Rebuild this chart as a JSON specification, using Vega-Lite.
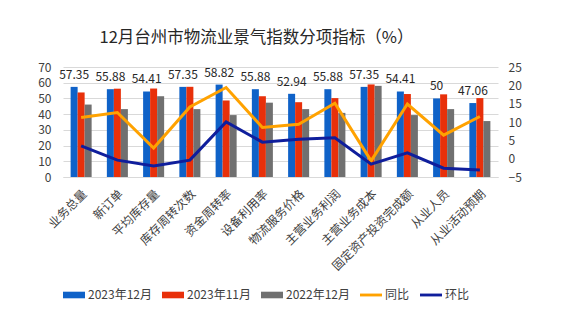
{
  "$schema": "https://vega.github.io/schema/vega-lite/v6.json",
  "width": 435,
  "height": 110,
  "autosize": {"type": "none"},
  "padding": {"left": 63, "top": 67, "right": 64, "bottom": 153},
  "background": "white",
  "title": {
    "text": "12月台州市物流业景气指数分项指标（%）",
    "fontSize": 16.5,
    "fontWeight": "normal",
    "color": "#262626",
    "anchor": "middle",
    "dx": -24,
    "offset": 15
  },
  "config": {
    "font": "Noto Sans CJK SC",
    "view": {"stroke": null},
    "axis": {"labelFontSize": 12, "labelColor": "#404040", "ticks": false, "title": null}
  },
  "datasets": {
    "bars": [
      {"cat": "业务总量", "series": "2023年12月", "value": 57.35},
      {"cat": "新订单", "series": "2023年12月", "value": 55.88},
      {"cat": "平均库存量", "series": "2023年12月", "value": 54.41},
      {"cat": "库存周转次数", "series": "2023年12月", "value": 57.35},
      {"cat": "资金周转率", "series": "2023年12月", "value": 58.82},
      {"cat": "设备利用率", "series": "2023年12月", "value": 55.88},
      {"cat": "物流服务价格", "series": "2023年12月", "value": 52.94},
      {"cat": "主营业务利润", "series": "2023年12月", "value": 55.88},
      {"cat": "主营业务成本", "series": "2023年12月", "value": 57.35},
      {"cat": "固定资产投资完成额", "series": "2023年12月", "value": 54.41},
      {"cat": "从业人员", "series": "2023年12月", "value": 50},
      {"cat": "从业活动预期", "series": "2023年12月", "value": 47.06},
      {"cat": "业务总量", "series": "2023年11月", "value": 53.8},
      {"cat": "新订单", "series": "2023年11月", "value": 56.2},
      {"cat": "平均库存量", "series": "2023年11月", "value": 56.3},
      {"cat": "库存周转次数", "series": "2023年11月", "value": 57.4},
      {"cat": "资金周转率", "series": "2023年11月", "value": 48.7},
      {"cat": "设备利用率", "series": "2023年11月", "value": 51.4},
      {"cat": "物流服务价格", "series": "2023年11月", "value": 47.6},
      {"cat": "主营业务利润", "series": "2023年11月", "value": 50.2},
      {"cat": "主营业务成本", "series": "2023年11月", "value": 58.9},
      {"cat": "固定资产投资完成额", "series": "2023年11月", "value": 52.8},
      {"cat": "从业人员", "series": "2023年11月", "value": 52.6},
      {"cat": "从业活动预期", "series": "2023年11月", "value": 50.2},
      {"cat": "业务总量", "series": "2022年12月", "value": 46.1},
      {"cat": "新订单", "series": "2022年12月", "value": 43.2},
      {"cat": "平均库存量", "series": "2022年12月", "value": 51.4},
      {"cat": "库存周转次数", "series": "2022年12月", "value": 43.2},
      {"cat": "资金周转率", "series": "2022年12月", "value": 39.4},
      {"cat": "设备利用率", "series": "2022年12月", "value": 47.3},
      {"cat": "物流服务价格", "series": "2022年12月", "value": 43.2},
      {"cat": "主营业务利润", "series": "2022年12月", "value": 40.8},
      {"cat": "主营业务成本", "series": "2022年12月", "value": 58.0},
      {"cat": "固定资产投资完成额", "series": "2022年12月", "value": 39.4},
      {"cat": "从业人员", "series": "2022年12月", "value": 43.2},
      {"cat": "从业活动预期", "series": "2022年12月", "value": 35.6}
    ],
    "lines": [
      {"cat": "业务总量", "series": "同比", "value": 11.2},
      {"cat": "新订单", "series": "同比", "value": 12.6},
      {"cat": "平均库存量", "series": "同比", "value": 2.9},
      {"cat": "库存周转次数", "series": "同比", "value": 14.1},
      {"cat": "资金周转率", "series": "同比", "value": 19.4},
      {"cat": "设备利用率", "series": "同比", "value": 8.5},
      {"cat": "物流服务价格", "series": "同比", "value": 9.4},
      {"cat": "主营业务利润", "series": "同比", "value": 15.1},
      {"cat": "主营业务成本", "series": "同比", "value": -0.6},
      {"cat": "固定资产投资完成额", "series": "同比", "value": 14.9},
      {"cat": "从业人员", "series": "同比", "value": 6.4},
      {"cat": "从业活动预期", "series": "同比", "value": 11.5},
      {"cat": "业务总量", "series": "环比", "value": 3.5},
      {"cat": "新订单", "series": "环比", "value": -0.4},
      {"cat": "平均库存量", "series": "环比", "value": -2.0},
      {"cat": "库存周转次数", "series": "环比", "value": -0.4},
      {"cat": "资金周转率", "series": "环比", "value": 10.0},
      {"cat": "设备利用率", "series": "环比", "value": 4.5},
      {"cat": "物流服务价格", "series": "环比", "value": 5.3},
      {"cat": "主营业务利润", "series": "环比", "value": 5.7},
      {"cat": "主营业务成本", "series": "环比", "value": -1.5},
      {"cat": "固定资产投资完成额", "series": "环比", "value": 1.6},
      {"cat": "从业人员", "series": "环比", "value": -2.6},
      {"cat": "从业活动预期", "series": "环比", "value": -3.1}
    ]
  },
  "encoding": {
    "x": {
      "field": "cat",
      "type": "nominal",
      "sort": ["业务总量","新订单","平均库存量","库存周转次数","资金周转率","设备利用率","物流服务价格","主营业务利润","主营业务成本","固定资产投资完成额","从业人员","从业活动预期"],
      "scale": {"paddingInner": 0.42, "paddingOuter": 0.21},
      "axis": {"labelAngle": -45, "domain": true, "domainColor": "#D9D9D9", "labelPadding": 11, "labelColor": "#404040"}
    },
    "color": {
      "field": "series",
      "type": "nominal",
      "scale": {
        "domain": ["2023年12月", "2023年11月", "2022年12月", "同比", "环比"],
        "range": ["#0F62C8", "#E8300A", "#707070", "#FFA200", "#0F1E9C"]
      },
      "legend": {
        "title": null,
        "orient": "bottom",
        "direction": "horizontal",
        "offset": 11,
        "labelFontSize": 12,
        "labelColor": "#404040",
        "symbolSize": 484,
        "symbolStrokeWidth": 0,
        "labelOffset": 3,
        "columnPadding": 10,
        "encode": {
          "symbols": {
            "update": {
              "shape": {"signal": "(datum.value == '同比' || datum.value == '环比') ? 'M-1,-0.13H1V0.13H-1Z' : 'M-1,-0.3H1V0.3H-1Z'"},
              "fill": {"scale": "color", "field": "value"},
              "opacity": {"value": 1},
              "strokeWidth": {"value": 0}
            }
          }
        }
      }
    }
  },
  "layer": [
    {
      "data": {"name": "bars"},
      "encoding": {
        "y": {
          "field": "value",
          "type": "quantitative",
          "scale": {"domain": [0, 70]},
          "axis": {"values": [0, 10, 20, 30, 40, 50, 60, 70], "domain": false, "grid": true, "gridColor": "#D9D9D9", "labelPadding": 12}
        },
        "xOffset": {"field": "series", "type": "nominal", "sort": ["2023年12月", "2023年11月", "2022年12月"], "scale": {"paddingInner": 0}}
      },
      "layer": [
        {"mark": {"type": "bar"}},
        {
          "transform": [{"filter": "datum.series == '2023年12月'"}],
          "mark": {"type": "text", "baseline": "bottom", "dy": -5, "fontSize": 12, "color": "#262626"},
          "encoding": {"text": {"field": "value", "type": "quantitative"}, "color": {"value": "#262626"}}
        }
      ]
    },
    {
      "data": {"name": "lines"},
      "mark": {"type": "line", "strokeWidth": 3},
      "encoding": {
        "y": {
          "field": "value",
          "type": "quantitative",
          "scale": {"domain": [-5, 25]},
          "axis": {"orient": "right", "values": [-5, 0, 5, 10, 15, 20, 25], "domain": false, "grid": false, "labelPadding": 10}
        }
      }
    }
  ],
  "resolve": {"scale": {"y": "independent"}}
}
